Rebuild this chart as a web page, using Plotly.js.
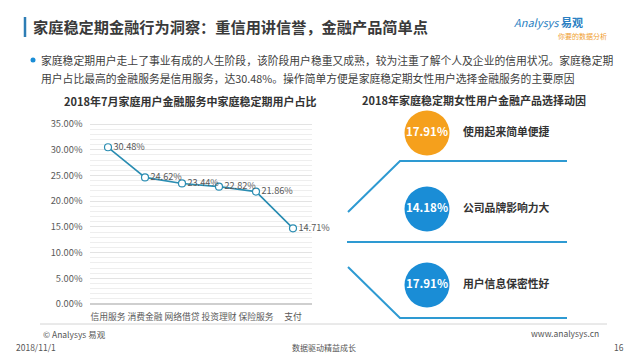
<!DOCTYPE html>
<html>
<head>
<meta charset="utf-8">
<script src="https://cdn.plot.ly/plotly-3.0.1.min.js"></script>
<style>html,body{margin:0;padding:0;background:#fff;}#chart{width:640px;height:360px;}</style>
</head>
<body>
<div id="chart"></div>
<script>
// ---- data ----
const categories = ["信用服务", "消费金融", "网络借贷", "投资理财", "保险服务", "支付"];
const shares = [30.48, 24.62, 23.44, 22.82, 21.86, 14.71];
const yTicks = [0, 5, 10, 15, 20, 25, 30, 35];

const reasons = ["使用起来简单便捷", "公司品牌影响力大", "用户信息保密性好"];
const reasonPcts = [17.91, 14.18, 17.91];
const reasonColors = ["#F5A01C", "#1A8DD6", "#1A8DD6"];

const pageTitle = "家庭稳定期金融行为洞察：重信用讲信誉，金融产品简单点";
const bulletLine1 = "家庭稳定期用户走上了事业有成的人生阶段，该阶段用户稳重又成熟，较为注重了解个人及企业的信用状况。家庭稳定期";
const bulletLine2 = "用户占比最高的金融服务是信用服务，达30.48%。操作简单方便是家庭稳定期女性用户选择金融服务的主要原因";
const leftTitle = "2018年7月家庭用户金融服务中家庭稳定期用户占比";
const rightTitle = "2018年家庭稳定期女性用户金融产品选择动因";

// ---- helpers (pixel -> paper) ----
const W = 640, H = 360;
const px = x => x / W;
const py = y => 1 - y / H;
const FONT = "'Noto Sans CJK SC', 'Noto Sans', sans-serif";

const lineColor = "#2B8DB2";

const traces = [
  {
    type: "scatter", mode: "lines+markers+text",
    x: categories, y: shares,
    text: shares.map(v => v.toFixed(2) + "%"),
    textposition: "middle right",
    textfont: {family: FONT, size: 9.2, color: "#595959"},
    line: {color: lineColor, width: 1.6},
    marker: {symbol: "circle", size: 7, color: "#ffffff", line: {color: lineColor, width: 1.2}},
    cliponaxis: false,
    xaxis: "x", yaxis: "y", hoverinfo: "skip"
  },
  {
    type: "scatter", mode: "markers+text",
    x: reasons.map(() => 0), y: reasons.map((r, i) => i),
    text: reasonPcts.map(v => v.toFixed(2) + "%"),
    textposition: "middle center",
    textfont: {family: FONT, size: 11.5, color: "#ffffff", weight: "bold"},
    marker: {size: 45, color: reasonColors, line: {width: 0}},
    cliponaxis: false,
    xaxis: "x2", yaxis: "y2", hoverinfo: "skip"
  },
  {
    type: "scatter", mode: "text",
    x: reasons.map(() => 1), y: reasons.map((r, i) => i),
    text: reasons,
    textposition: "middle right",
    textfont: {family: FONT, size: 10.8, color: "#333333", weight: "bold"},
    cliponaxis: false,
    xaxis: "x2", yaxis: "y2", hoverinfo: "skip"
  }
];

// right panel axis: index i -> pixel y = 133 + 76*i ; x value 0 -> 427px, 1 -> 463px
const yStep = 76, y0px = 133;
const xStep = 36, x0px = 427;

const bracketColor = "#2E9AD2";
const shapes = [
  {type: "line", xref: "paper", yref: "paper", x0: px(25), x1: px(25), y0: py(17), y1: py(37), line: {color: "#2D7DB5", width: 2.5}},
  {type: "circle", xref: "paper", yref: "paper", x0: px(30.5), x1: px(35.5), y0: py(57.5), y1: py(62.5), fillcolor: "#1A8DD6", line: {width: 0}},
  {type: "path", xref: "paper", yref: "paper",
   path: `M ${px(348)} ${py(212)} L ${px(400)} ${py(161)} L ${px(567)} ${py(161)}`,
   line: {color: bracketColor, width: 2}},
  {type: "line", xref: "paper", yref: "paper", x0: px(347), x1: px(567), y0: py(242), y1: py(242), line: {color: bracketColor, width: 2}},
  {type: "path", xref: "paper", yref: "paper",
   path: `M ${px(348)} ${py(267)} L ${px(400)} ${py(318)} L ${px(567)} ${py(318)}`,
   line: {color: bracketColor, width: 2}},
  {type: "line", xref: "paper", yref: "paper", x0: px(40), x1: px(607), y0: py(324), y1: py(324), line: {color: "#d4d4d4", width: 1}}
];

const ann = (text, x, y, opts = {}) => Object.assign({
  text, x: px(x), y: py(y), xref: "paper", yref: "paper", showarrow: false,
  xanchor: "left", yanchor: "middle",
  font: {family: FONT, size: 11, color: "#404040"}
}, opts);

const annotations = [
  ann(pageTitle, 31, 26, {font: {family: FONT, size: 15.2, color: "#3a3a3a", weight: "bold"}}),
  ann("<i>Analysys</i> <b>易观</b>", 512, 22, {font: {family: FONT, size: 11, color: "#2B7FC2"}}),
  ann("你要的数据分析", 556, 36, {font: {family: FONT, size: 7, color: "#F0A030"}}),
  ann(bulletLine1, 39, 60, {font: {family: FONT, size: 10.8, color: "#404040"}}),
  ann(bulletLine2, 39, 78, {font: {family: FONT, size: 10.8, color: "#404040"}}),
  ann(leftTitle, 190, 101, {xanchor: "center", font: {family: FONT, size: 11, color: "#333333", weight: "bold"}}),
  ann(rightTitle, 474, 100, {xanchor: "center", font: {family: FONT, size: 11, color: "#333333", weight: "bold"}}),
  ann("© Analysys 易观", 41, 334, {font: {family: FONT, size: 8.5, color: "#555555"}}),
  ann("2018/11/1", 14, 347, {font: {family: FONT, size: 8.5, color: "#555555"}}),
  ann("数据驱动精益成长", 290, 347, {font: {family: FONT, size: 8, color: "#555555"}}),
  ann("www.analysys.cn", 601, 333, {xanchor: "right", font: {family: FONT, size: 8.5, color: "#555555"}}),
  ann("16", 626, 347, {xanchor: "right", font: {family: FONT, size: 8.5, color: "#555555"}})
];

const layout = {
  width: W, height: H,
  margin: {l: 0, r: 0, t: 0, b: 0},
  paper_bgcolor: "#ffffff", plot_bgcolor: "rgba(0,0,0,0)",
  showlegend: false,
  xaxis: {
    domain: [px(89.5), px(311.5)], anchor: "y",
    type: "category", range: [-0.5, 5.5],
    showgrid: false, zeroline: false, showline: false, ticks: "",
    tickangle: 0, ticklabelstandoff: 6,
    tickfont: {family: FONT, size: 8.8, color: "#595959"},
    fixedrange: true
  },
  yaxis: {
    domain: [py(304), py(123)], anchor: "x",
    range: [0, 35.2], tickvals: yTicks, ticktext: yTicks.map(v => v.toFixed(2) + "%"),
    showgrid: true, gridcolor: "#e3e3e3", gridwidth: 1,
    minor: {dtick: 1, showgrid: true, gridcolor: "#eeeeee", gridwidth: 1, tick0: 0},
    zeroline: true, zerolinecolor: "#cfcfcf", zerolinewidth: 1.5,
    showline: false, ticks: "", ticklabelstandoff: 6,
    tickfont: {family: FONT, size: 9.3, color: "#595959"},
    fixedrange: true
  },
  xaxis2: {
    domain: [0, 1], anchor: "y2",
    range: [-x0px / xStep, (W - x0px) / xStep],
    visible: false, fixedrange: true
  },
  yaxis2: {
    domain: [0, 1], anchor: "x2",
    range: [(H - y0px) / yStep, -y0px / yStep],
    visible: false, fixedrange: true
  },
  shapes, annotations
};

Plotly.newPlot("chart", traces, layout, {staticPlot: true, displayModeBar: false});
</script>
</body>
</html>
